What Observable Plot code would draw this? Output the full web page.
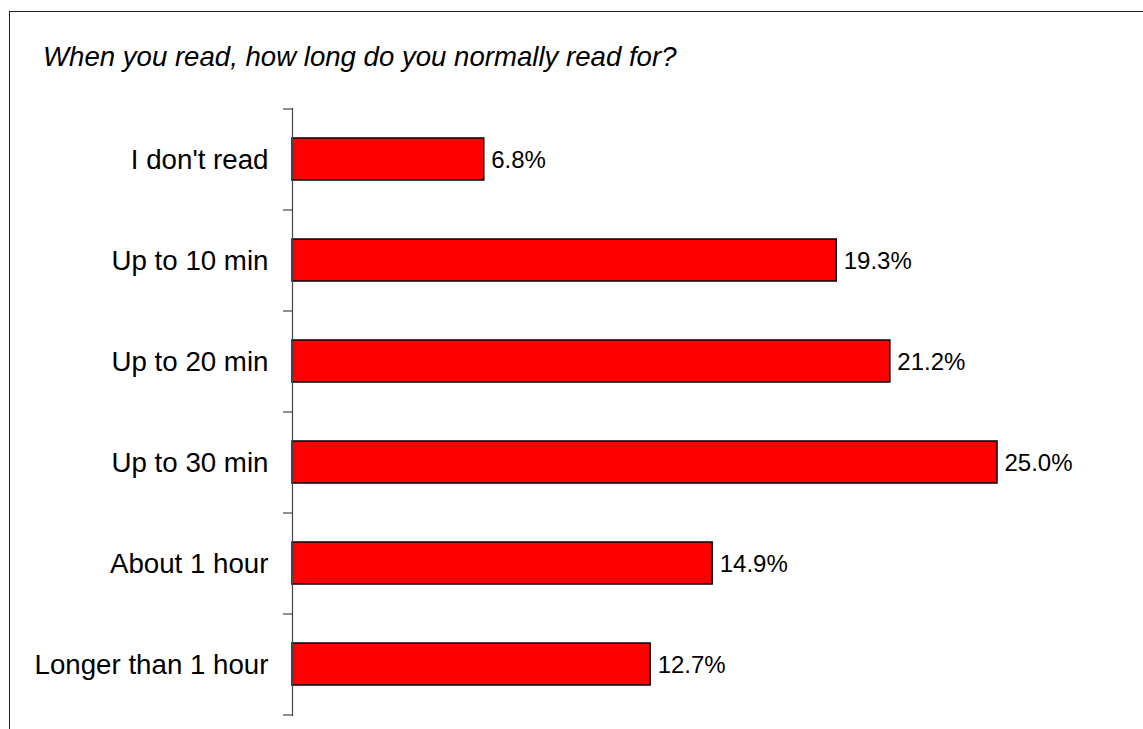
<!DOCTYPE html>
<html>
<head>
<meta charset="utf-8">
<script src="https://cdn.jsdelivr.net/npm/d3@7"></script>
<script src="https://cdn.jsdelivr.net/npm/@observablehq/plot@0.6"></script>
<style>
  html, body { margin: 0; padding: 0; background: #fff; overflow: hidden; }
  #wrap { position: relative; width: 1143px; height: 729px; overflow: hidden; font-family: "Liberation Sans", Arial, Helvetica, sans-serif; }
  #frame { position: absolute; left: 9px; top: 11px; width: 1300px; height: 900px; border: 1.5px solid #222; box-sizing: border-box; }
  #title { position: absolute; left: 43px; top: 43px; font-size: 27.6px; line-height: 27.6px; font-style: italic; color: #000; white-space: nowrap; }
  #chart { position: absolute; left: 0; top: 0; }
</style>
</head>
<body>
<div id="wrap">
  <div id="frame"></div>
  <div id="chart"></div>
  <div id="title">When you read, how long do you normally read for?</div>
</div>
<script>
const categories = ["I don't read", "Up to 10 min", "Up to 20 min", "Up to 30 min", "About 1 hour", "Longer than 1 hour"];
const values = [6.8, 19.3, 21.2, 25.0, 14.9, 12.7];

const data = categories.map((c, i) => ({category: c, value: values[i]}));

// band-boundary tick marks on the left of the category axis, placed through the y scale
function boundaryTicks(index, scales, channels, dimensions) {
  const y = scales.y;
  const bw = y.bandwidth();
  const g = d3.create("svg:g").attr("stroke", "#444").attr("stroke-width", 1.2);
  const xs = dimensions.marginLeft;
  const bounds = [y(categories[0])].concat(categories.map(c => y(c) + bw));
  for (const b of bounds) {
    g.append("line").attr("x1", xs - 9).attr("x2", xs).attr("y1", b).attr("y2", b);
  }
  return g.node();
}

const chart = Plot.plot({
  width: 1143,
  height: 729,
  marginLeft: 292,
  marginRight: 5,
  marginTop: 108,
  marginBottom: 13,
  style: {background: "transparent", fontFamily: "'Liberation Sans', Arial, Helvetica, sans-serif", color: "#000"},
  x: {domain: [0, 30], axis: null},
  y: {domain: categories, padding: 0, label: null},
  marks: [
    Plot.barX(data, {y: "category", x: "value", fill: "#ff0000", stroke: "#000", strokeWidth: 1.5, insetTop: 29, insetBottom: 30}),
    Plot.text(data, {y: "category", x: "value", text: d => d.value.toFixed(1) + "%", textAnchor: "start", dx: 7, fontSize: 24, fill: "#000"}),
    Plot.ruleX([0], {stroke: "#444", strokeWidth: 1.2}),
    boundaryTicks,
    Plot.axisY({tickSize: 0, tickPadding: 24, fontSize: 27.7, label: null, fill: "#000"})
  ]
});
document.getElementById("chart").appendChild(chart);
</script>
</body>
</html>
